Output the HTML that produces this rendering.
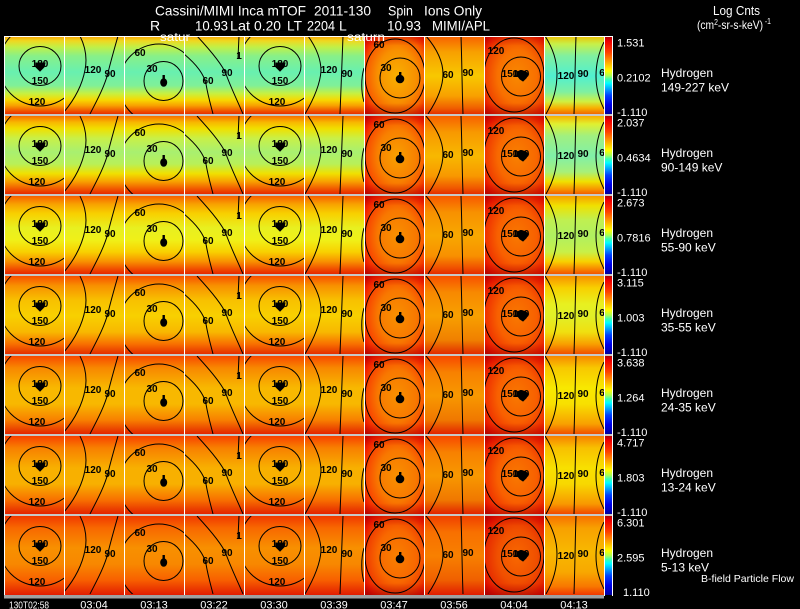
<!DOCTYPE html>
<html><head><meta charset="utf-8"><style>
html,body{margin:0;padding:0;background:#000;}
svg{display:block;}
.t{font-family:"Liberation Sans",sans-serif;fill:#fff;}
.lb text{font-family:"Liberation Sans",sans-serif;font-weight:bold;font-size:10px;fill:#000;text-anchor:middle;}
.cv{font-family:"Liberation Sans",sans-serif;font-size:11px;fill:#fff;}
.hl{font-family:"Liberation Sans",sans-serif;font-size:12px;fill:#fff;}
.tk{font-family:"Liberation Sans",sans-serif;font-size:11px;fill:#fff;text-anchor:middle;}
</style></head><body>
<svg width="800" height="609" viewBox="0 0 800 609" xmlns="http://www.w3.org/2000/svg">
<defs>
<linearGradient id="cb" x1="0" y1="0" x2="0" y2="1">
<stop offset="0" stop-color="#b00000"/><stop offset="0.06" stop-color="#f00000"/><stop offset="0.2" stop-color="#ff4000"/><stop offset="0.3" stop-color="#ff9000"/><stop offset="0.38" stop-color="#ffd000"/><stop offset="0.44" stop-color="#ffff00"/><stop offset="0.5" stop-color="#b0ff50"/><stop offset="0.55" stop-color="#40ffb0"/><stop offset="0.6" stop-color="#00ffff"/><stop offset="0.68" stop-color="#00a0ff"/><stop offset="0.76" stop-color="#0040ff"/><stop offset="0.88" stop-color="#0000e8"/><stop offset="1" stop-color="#0000a0"/>
</linearGradient>
<linearGradient id="edge" x1="0" y1="0" x2="0" y2="1">
<stop offset="0" stop-color="#c00000" stop-opacity="0.45"/><stop offset="0.12" stop-color="#c00000" stop-opacity="0"/><stop offset="0.84" stop-color="#b00000" stop-opacity="0"/><stop offset="1" stop-color="#a00000" stop-opacity="0.6"/>
</linearGradient>
<!-- row 1 -->
<linearGradient id="a1" x1="0" y1="0" x2="0" y2="1">
<stop offset="0" stop-color="#f8a000"/><stop offset="0.06" stop-color="#f0d820"/><stop offset="0.14" stop-color="#c0f048"/><stop offset="0.25" stop-color="#88f088"/><stop offset="0.45" stop-color="#68f0b0"/><stop offset="0.62" stop-color="#80f098"/><stop offset="0.72" stop-color="#c8f040"/><stop offset="0.8" stop-color="#f8d800"/><stop offset="0.87" stop-color="#f8a000"/><stop offset="0.94" stop-color="#f05000"/><stop offset="1" stop-color="#e01800"/>
</linearGradient>
<radialGradient id="t1" cx="0.55" cy="0.5" r="0.72"><stop offset="0" stop-color="#f8b000"/><stop offset="0.45" stop-color="#f89000"/><stop offset="0.7" stop-color="#f86000"/><stop offset="0.85" stop-color="#f02800"/><stop offset="1" stop-color="#c80000"/></radialGradient>
<linearGradient id="u1" x1="0" y1="0" x2="0" y2="1"><stop offset="0" stop-color="#f86000"/><stop offset="0.2" stop-color="#f8a000"/><stop offset="0.5" stop-color="#f8c800"/><stop offset="0.75" stop-color="#f8a000"/><stop offset="0.9" stop-color="#f06000"/><stop offset="1" stop-color="#e02000"/></linearGradient>
<radialGradient id="v1" cx="0.55" cy="0.5" r="0.72"><stop offset="0" stop-color="#f88800"/><stop offset="0.45" stop-color="#f87000"/><stop offset="0.7" stop-color="#f04800"/><stop offset="0.85" stop-color="#e82000"/><stop offset="1" stop-color="#c00000"/></radialGradient>
<linearGradient id="w1" x1="0" y1="0" x2="0" y2="1"><stop offset="0" stop-color="#f0c000"/><stop offset="0.1" stop-color="#c8f048"/><stop offset="0.25" stop-color="#80f0a0"/><stop offset="0.5" stop-color="#50f0d0"/><stop offset="0.7" stop-color="#80f0a0"/><stop offset="0.82" stop-color="#d0f040"/><stop offset="0.9" stop-color="#f8b000"/><stop offset="1" stop-color="#f05000"/></linearGradient>
<!-- row 2 -->
<linearGradient id="a2" x1="0" y1="0" x2="0" y2="1">
<stop offset="0" stop-color="#f87000"/><stop offset="0.08" stop-color="#f8b800"/><stop offset="0.16" stop-color="#f0e000"/><stop offset="0.28" stop-color="#c8f048"/><stop offset="0.45" stop-color="#a8f070"/><stop offset="0.6" stop-color="#b8f058"/><stop offset="0.72" stop-color="#f0e000"/><stop offset="0.82" stop-color="#f8a000"/><stop offset="0.92" stop-color="#f05000"/><stop offset="1" stop-color="#e01800"/>
</linearGradient>
<radialGradient id="t2" cx="0.55" cy="0.5" r="0.72"><stop offset="0" stop-color="#f8a000"/><stop offset="0.45" stop-color="#f88000"/><stop offset="0.7" stop-color="#f85000"/><stop offset="0.85" stop-color="#f02000"/><stop offset="1" stop-color="#c00000"/></radialGradient>
<linearGradient id="u2" x1="0" y1="0" x2="0" y2="1"><stop offset="0" stop-color="#f86000"/><stop offset="0.2" stop-color="#f89800"/><stop offset="0.5" stop-color="#f8b800"/><stop offset="0.75" stop-color="#f89800"/><stop offset="0.9" stop-color="#f05800"/><stop offset="1" stop-color="#e02000"/></linearGradient>
<radialGradient id="v2" cx="0.55" cy="0.5" r="0.72"><stop offset="0" stop-color="#f88000"/><stop offset="0.45" stop-color="#f86800"/><stop offset="0.7" stop-color="#f04000"/><stop offset="0.85" stop-color="#e81800"/><stop offset="1" stop-color="#c00000"/></radialGradient>
<linearGradient id="w2" x1="0" y1="0" x2="0" y2="1"><stop offset="0" stop-color="#f8b000"/><stop offset="0.1" stop-color="#e0f030"/><stop offset="0.25" stop-color="#a0f080"/><stop offset="0.5" stop-color="#80f0a8"/><stop offset="0.7" stop-color="#a8f078"/><stop offset="0.82" stop-color="#f0e000"/><stop offset="0.92" stop-color="#f89000"/><stop offset="1" stop-color="#f04800"/></linearGradient>
<!-- row 3 -->
<linearGradient id="a3" x1="0" y1="0" x2="0" y2="1">
<stop offset="0" stop-color="#f86000"/><stop offset="0.1" stop-color="#f8a000"/><stop offset="0.22" stop-color="#f8d000"/><stop offset="0.4" stop-color="#e8f020"/><stop offset="0.55" stop-color="#f0f018"/><stop offset="0.7" stop-color="#f8d000"/><stop offset="0.82" stop-color="#f89000"/><stop offset="0.92" stop-color="#f04800"/><stop offset="1" stop-color="#e01800"/>
</linearGradient>
<radialGradient id="t3" cx="0.55" cy="0.5" r="0.72"><stop offset="0" stop-color="#f89000"/><stop offset="0.45" stop-color="#f87800"/><stop offset="0.7" stop-color="#f84800"/><stop offset="0.85" stop-color="#f02000"/><stop offset="1" stop-color="#c00000"/></radialGradient>
<linearGradient id="u3" x1="0" y1="0" x2="0" y2="1"><stop offset="0" stop-color="#f85800"/><stop offset="0.2" stop-color="#f89000"/><stop offset="0.5" stop-color="#f8a800"/><stop offset="0.75" stop-color="#f89000"/><stop offset="0.9" stop-color="#f05000"/><stop offset="1" stop-color="#e02000"/></linearGradient>
<radialGradient id="v3" cx="0.55" cy="0.5" r="0.72"><stop offset="0" stop-color="#f87800"/><stop offset="0.45" stop-color="#f86000"/><stop offset="0.7" stop-color="#f03800"/><stop offset="0.85" stop-color="#e81800"/><stop offset="1" stop-color="#b80000"/></radialGradient>
<linearGradient id="w3" x1="0" y1="0" x2="0" y2="1"><stop offset="0" stop-color="#f8a000"/><stop offset="0.12" stop-color="#f0e000"/><stop offset="0.3" stop-color="#c0f050"/><stop offset="0.5" stop-color="#b0f060"/><stop offset="0.7" stop-color="#c8f048"/><stop offset="0.82" stop-color="#f8d000"/><stop offset="0.92" stop-color="#f88000"/><stop offset="1" stop-color="#f04000"/></linearGradient>
<!-- row 4 -->
<linearGradient id="a4" x1="0" y1="0" x2="0" y2="1">
<stop offset="0" stop-color="#f85000"/><stop offset="0.12" stop-color="#f89000"/><stop offset="0.3" stop-color="#f8c000"/><stop offset="0.5" stop-color="#f8d000"/><stop offset="0.7" stop-color="#f8b800"/><stop offset="0.85" stop-color="#f87000"/><stop offset="1" stop-color="#e02000"/>
</linearGradient>
<linearGradient id="u4" x1="0" y1="0" x2="0" y2="1"><stop offset="0" stop-color="#f85000"/><stop offset="0.2" stop-color="#f88800"/><stop offset="0.5" stop-color="#f8a000"/><stop offset="0.8" stop-color="#f08000"/><stop offset="1" stop-color="#e02000"/></linearGradient>
<linearGradient id="w4" x1="0" y1="0" x2="0" y2="1"><stop offset="0" stop-color="#f89000"/><stop offset="0.15" stop-color="#f8d000"/><stop offset="0.35" stop-color="#e8f020"/><stop offset="0.5" stop-color="#e0f028"/><stop offset="0.7" stop-color="#f0e010"/><stop offset="0.85" stop-color="#f8a000"/><stop offset="1" stop-color="#f04000"/></linearGradient>
<!-- row 5 -->
<linearGradient id="a5" x1="0" y1="0" x2="0" y2="1">
<stop offset="0" stop-color="#f84800"/><stop offset="0.15" stop-color="#f88800"/><stop offset="0.4" stop-color="#f8b800"/><stop offset="0.6" stop-color="#f8b800"/><stop offset="0.8" stop-color="#f88000"/><stop offset="1" stop-color="#e01800"/>
</linearGradient>
<linearGradient id="u5" x1="0" y1="0" x2="0" y2="1"><stop offset="0" stop-color="#f84800"/><stop offset="0.2" stop-color="#f88000"/><stop offset="0.5" stop-color="#f89800"/><stop offset="0.8" stop-color="#f07800"/><stop offset="1" stop-color="#e01800"/></linearGradient>
<linearGradient id="w5" x1="0" y1="0" x2="0" y2="1"><stop offset="0" stop-color="#f88800"/><stop offset="0.15" stop-color="#f8c800"/><stop offset="0.4" stop-color="#f8e800"/><stop offset="0.6" stop-color="#f8e000"/><stop offset="0.85" stop-color="#f8a000"/><stop offset="1" stop-color="#f04000"/></linearGradient>
<!-- row 6 -->
<linearGradient id="a6" x1="0" y1="0" x2="0" y2="1">
<stop offset="0" stop-color="#f84000"/><stop offset="0.15" stop-color="#f88000"/><stop offset="0.4" stop-color="#f8b000"/><stop offset="0.6" stop-color="#f8b000"/><stop offset="0.8" stop-color="#f87000"/><stop offset="1" stop-color="#e01800"/>
</linearGradient>
<linearGradient id="w6" x1="0" y1="0" x2="0" y2="1"><stop offset="0" stop-color="#f88000"/><stop offset="0.15" stop-color="#f8c000"/><stop offset="0.4" stop-color="#f8e000"/><stop offset="0.6" stop-color="#f8d800"/><stop offset="0.85" stop-color="#f89800"/><stop offset="1" stop-color="#f03800"/></linearGradient>
<!-- row 7 -->
<linearGradient id="a7" x1="0" y1="0" x2="0" y2="1">
<stop offset="0" stop-color="#f03800"/><stop offset="0.15" stop-color="#f86800"/><stop offset="0.4" stop-color="#f89000"/><stop offset="0.6" stop-color="#f88800"/><stop offset="0.8" stop-color="#f86000"/><stop offset="1" stop-color="#e01800"/>
</linearGradient>
<radialGradient id="t7" cx="0.55" cy="0.5" r="0.72"><stop offset="0" stop-color="#f88000"/><stop offset="0.45" stop-color="#f86800"/><stop offset="0.7" stop-color="#f04000"/><stop offset="0.85" stop-color="#e81800"/><stop offset="1" stop-color="#b80000"/></radialGradient>
<linearGradient id="u7" x1="0" y1="0" x2="0" y2="1"><stop offset="0" stop-color="#f04000"/><stop offset="0.2" stop-color="#f87000"/><stop offset="0.5" stop-color="#f88000"/><stop offset="0.8" stop-color="#f06000"/><stop offset="1" stop-color="#e01800"/></linearGradient>
<radialGradient id="v7" cx="0.55" cy="0.5" r="0.72"><stop offset="0" stop-color="#f86800"/><stop offset="0.45" stop-color="#f05000"/><stop offset="0.7" stop-color="#e83000"/><stop offset="0.85" stop-color="#e01000"/><stop offset="1" stop-color="#b00000"/></radialGradient>
<linearGradient id="w7" x1="0" y1="0" x2="0" y2="1"><stop offset="0" stop-color="#f87000"/><stop offset="0.15" stop-color="#f8a000"/><stop offset="0.45" stop-color="#f8b800"/><stop offset="0.7" stop-color="#f8a800"/><stop offset="0.88" stop-color="#f87800"/><stop offset="1" stop-color="#f03000"/></linearGradient>

<clipPath id="pc"><rect x="4" y="0" width="600" height="78"/></clipPath>

<g id="cont" fill="none" stroke="#000" stroke-width="1">
 <svg x="4" y="0" width="60" height="78" overflow="hidden">
  <ellipse cx="36" cy="30" rx="21" ry="19.5"/>
  <circle cx="36" cy="29" r="41"/>
  <path d="M32,27h9l-1,4l-4,4l-4,-4z" fill="#000"/>
 </svg>
 <svg x="64" y="0" width="60" height="78" overflow="hidden">
  <path d="M16,0 C22,12 23,24 21,34 C18,50 10,64 0,76"/>
  <path d="M54,0 C50,14 46,28 44,37 C40,52 32,66 26,78"/>
 </svg>
 <svg x="124" y="0" width="60" height="78" overflow="hidden">
  <circle cx="35" cy="48" r="40"/>
  <circle cx="39.5" cy="45" r="19.5"/>
  <ellipse cx="39.7" cy="46.5" rx="3" ry="3.8" fill="#000"/><rect x="38.5" y="39" width="2.4" height="4" fill="#000" stroke="none"/>
 </svg>
 <svg x="184" y="0" width="60" height="78" overflow="hidden">
  <path d="M0,18 C12,28 20,38 22,48 C24,60 27,70 29,78"/>
  <path d="M13,0 C26,14 38,28 42,38 C47,52 54,66 59,78"/>
  <path d="M55,0 L54,22"/>
 </svg>
 <svg x="244" y="0" width="60" height="78" overflow="hidden">
  <ellipse cx="36" cy="30" rx="21" ry="19.5"/>
  <circle cx="36" cy="29" r="41"/>
  <path d="M32,27h9l-1,4l-4,4l-4,-4z" fill="#000"/>
 </svg>
 <svg x="304" y="0" width="60" height="78" overflow="hidden">
  <path d="M4,0 C14,14 17,25 17,35 C16,50 8,66 1,78"/>
  <path d="M39,0 C38,30 37,50 36,78"/>
  <path d="M60,32 C57,42 57,56 60,66"/>
 </svg>
 <svg x="364" y="0" width="60" height="78" overflow="hidden">
  <ellipse cx="31" cy="40" rx="30" ry="37"/>
  <circle cx="36" cy="42" r="20"/>
  <ellipse cx="36" cy="43" rx="3.8" ry="3.8" fill="#000"/><rect x="35" y="36" width="2.4" height="4" fill="#000" stroke="none"/>
 </svg>
 <svg x="424" y="0" width="60" height="78" overflow="hidden">
  <path d="M2,0 C14,14 19,27 19,38 C19,52 12,66 4,78"/>
  <path d="M37,0 C38,30 38,50 39,78"/>
 </svg>
 <svg x="484" y="0" width="60" height="78" overflow="hidden">
  <ellipse cx="30" cy="39" rx="30" ry="37"/>
  <circle cx="37" cy="40.5" r="19.5"/>
  <path d="M33,36 L37,34.5 L41,35.5 L44.5,38 L42,42 L39,45 L36,43 L33,39z" fill="#000"/>
 </svg>
 <svg x="544" y="0" width="60" height="78" overflow="hidden">
  <path d="M1,0 C10,14 13,27 13,38 C13,52 9,66 2,78"/>
  <path d="M32,0 C31,30 31,50 30,78"/>
  <path d="M60,6 C54,18 52,29 52,40 C52,52 55,63 60,73"/>
 </svg>
</g>
</defs>

<rect x="0" y="0" width="800" height="609" fill="#000"/>

<!-- Title -->
<text class="t" font-size="14" x="155" y="15.5" textLength="151" lengthAdjust="spacingAndGlyphs">Cassini/MIMI Inca mTOF</text>
<text class="t" font-size="14" x="314" y="15.5" textLength="57" lengthAdjust="spacingAndGlyphs">2011-130</text>
<text class="t" font-size="14" x="388" y="15.5" textLength="25" lengthAdjust="spacingAndGlyphs">Spin</text>
<text class="t" font-size="14" x="424" y="15.5" textLength="58" lengthAdjust="spacingAndGlyphs">Ions Only</text>
<text class="t" font-size="14" x="150" y="30.5">R</text>
<text class="t" font-size="14" x="195" y="30.5" textLength="33" lengthAdjust="spacingAndGlyphs">10.93</text>
<text class="t" font-size="14" x="230" y="30.5" textLength="20" lengthAdjust="spacingAndGlyphs">Lat</text>
<text class="t" font-size="14" x="254" y="30.5" textLength="27" lengthAdjust="spacingAndGlyphs">0.20</text>
<text class="t" font-size="14" x="287" y="30.5" textLength="15" lengthAdjust="spacingAndGlyphs">LT</text>
<text class="t" font-size="14" x="307" y="30.5" textLength="28" lengthAdjust="spacingAndGlyphs">2204</text>
<text class="t" font-size="14" x="339" y="30.5">L</text>
<text class="t" font-size="14" x="387" y="30.5" textLength="34" lengthAdjust="spacingAndGlyphs">10.93</text>
<text class="t" font-size="14" x="432" y="30.5" textLength="58" lengthAdjust="spacingAndGlyphs">MIMI/APL</text>

<text class="t" font-size="13" x="713" y="15" textLength="47" lengthAdjust="spacingAndGlyphs">Log Cnts</text>
<text class="t" font-size="12" x="697" y="29" textLength="74" lengthAdjust="spacingAndGlyphs">(cm<tspan font-size="8" dy="-4">2</tspan><tspan dy="4">-sr-s-keV)</tspan><tspan font-size="8" dy="-5"> -1</tspan></text>

<!-- Row 1 -->
<g transform="translate(0,36)">
<rect x="4" y="0" width="360" height="80" fill="url(#a1)"/>
<rect x="364" y="0" width="60" height="80" fill="url(#t1)"/>
<rect x="424" y="0" width="60" height="80" fill="url(#u1)"/>
<rect x="484" y="0" width="60" height="80" fill="url(#v1)"/>
<rect x="364" y="0" width="60" height="80" fill="url(#edge)"/>
<rect x="484" y="0" width="60" height="80" fill="url(#edge)"/>
<rect x="544" y="0" width="60" height="80" fill="url(#w1)"/>
<rect x="605" y="1" width="7" height="77" fill="url(#cb)"/>
<use href="#cont"/>
<g class="lb" clip-path="url(#pc)">
<text x="40" y="31">180</text><text x="40" y="48">150</text><text x="37" y="69">120</text>
<text x="93" y="37">120</text><text x="110" y="41">90</text>
<text x="140" y="20">60</text><text x="152" y="36">30</text>
<text x="208" y="48">60</text><text x="227" y="40">90</text><text x="239" y="23">1</text>
<text x="280" y="31">180</text><text x="280" y="48">150</text><text x="277" y="69">120</text>
<text x="329" y="37">120</text><text x="347" y="41">90</text>
<text x="379" y="12">60</text><text x="386" y="35">30</text>
<text x="448" y="42">60</text><text x="468" y="40">90</text>
<text x="496" y="18">120</text><text x="510" y="41">150</text><text x="521" y="41">180</text>
<text x="566" y="43">120</text><text x="583" y="41">90</text><text x="602" y="40">6</text>
</g>
<text class="cv" x="617" y="10.5">1.531</text>
<text class="cv" x="617" y="45.5">0.2102</text>
<text class="cv" x="617" y="80">-1.110</text>
<text class="hl" x="661" y="41">Hydrogen</text>
<text class="hl" x="661" y="55.5">149-227 keV</text>
</g>

<!-- Row 2 -->
<g transform="translate(0,116)">
<rect x="4" y="0" width="360" height="80" fill="url(#a2)"/>
<rect x="364" y="0" width="60" height="80" fill="url(#t2)"/>
<rect x="424" y="0" width="60" height="80" fill="url(#u2)"/>
<rect x="484" y="0" width="60" height="80" fill="url(#v2)"/>
<rect x="364" y="0" width="60" height="80" fill="url(#edge)"/>
<rect x="484" y="0" width="60" height="80" fill="url(#edge)"/>
<rect x="544" y="0" width="60" height="80" fill="url(#w2)"/>
<rect x="605" y="0" width="7" height="78" fill="url(#cb)"/>
<use href="#cont"/>
<g class="lb" clip-path="url(#pc)">
<text x="40" y="31">180</text><text x="40" y="48">150</text><text x="37" y="69">120</text>
<text x="93" y="37">120</text><text x="110" y="41">90</text>
<text x="140" y="20">60</text><text x="152" y="36">30</text>
<text x="208" y="48">60</text><text x="227" y="40">90</text><text x="239" y="23">1</text>
<text x="280" y="31">180</text><text x="280" y="48">150</text><text x="277" y="69">120</text>
<text x="329" y="37">120</text><text x="347" y="41">90</text>
<text x="379" y="12">60</text><text x="386" y="35">30</text>
<text x="448" y="42">60</text><text x="468" y="40">90</text>
<text x="496" y="18">120</text><text x="510" y="41">150</text><text x="521" y="41">180</text>
<text x="566" y="43">120</text><text x="583" y="41">90</text><text x="602" y="40">6</text>
</g>
<text class="cv" x="617" y="10.5">2.037</text>
<text class="cv" x="617" y="45.5">0.4634</text>
<text class="cv" x="617" y="80">-1.110</text>
<text class="hl" x="661" y="41">Hydrogen</text>
<text class="hl" x="661" y="55.5">90-149 keV</text>
</g>

<!-- Row 3 -->
<g transform="translate(0,196)">
<rect x="4" y="0" width="360" height="80" fill="url(#a3)"/>
<rect x="364" y="0" width="60" height="80" fill="url(#t3)"/>
<rect x="424" y="0" width="60" height="80" fill="url(#u3)"/>
<rect x="484" y="0" width="60" height="80" fill="url(#v3)"/>
<rect x="364" y="0" width="60" height="80" fill="url(#edge)"/>
<rect x="484" y="0" width="60" height="80" fill="url(#edge)"/>
<rect x="544" y="0" width="60" height="80" fill="url(#w3)"/>
<rect x="605" y="0" width="7" height="78" fill="url(#cb)"/>
<use href="#cont"/>
<g class="lb" clip-path="url(#pc)">
<text x="40" y="31">180</text><text x="40" y="48">150</text><text x="37" y="69">120</text>
<text x="93" y="37">120</text><text x="110" y="41">90</text>
<text x="140" y="20">60</text><text x="152" y="36">30</text>
<text x="208" y="48">60</text><text x="227" y="40">90</text><text x="239" y="23">1</text>
<text x="280" y="31">180</text><text x="280" y="48">150</text><text x="277" y="69">120</text>
<text x="329" y="37">120</text><text x="347" y="41">90</text>
<text x="379" y="12">60</text><text x="386" y="35">30</text>
<text x="448" y="42">60</text><text x="468" y="40">90</text>
<text x="496" y="18">120</text><text x="510" y="41">150</text><text x="521" y="41">180</text>
<text x="566" y="43">120</text><text x="583" y="41">90</text><text x="602" y="40">6</text>
</g>
<text class="cv" x="617" y="10.5">2.673</text>
<text class="cv" x="617" y="45.5">0.7816</text>
<text class="cv" x="617" y="80">-1.110</text>
<text class="hl" x="661" y="41">Hydrogen</text>
<text class="hl" x="661" y="55.5">55-90 keV</text>
</g>

<!-- Row 4 -->
<g transform="translate(0,276)">
<rect x="4" y="0" width="360" height="80" fill="url(#a4)"/>
<rect x="364" y="0" width="60" height="80" fill="url(#t3)"/>
<rect x="424" y="0" width="60" height="80" fill="url(#u4)"/>
<rect x="484" y="0" width="60" height="80" fill="url(#v3)"/>
<rect x="364" y="0" width="60" height="80" fill="url(#edge)"/>
<rect x="484" y="0" width="60" height="80" fill="url(#edge)"/>
<rect x="544" y="0" width="60" height="80" fill="url(#w4)"/>
<rect x="605" y="0" width="7" height="78" fill="url(#cb)"/>
<use href="#cont"/>
<g class="lb" clip-path="url(#pc)">
<text x="40" y="31">180</text><text x="40" y="48">150</text><text x="37" y="69">120</text>
<text x="93" y="37">120</text><text x="110" y="41">90</text>
<text x="140" y="20">60</text><text x="152" y="36">30</text>
<text x="208" y="48">60</text><text x="227" y="40">90</text><text x="239" y="23">1</text>
<text x="280" y="31">180</text><text x="280" y="48">150</text><text x="277" y="69">120</text>
<text x="329" y="37">120</text><text x="347" y="41">90</text>
<text x="379" y="12">60</text><text x="386" y="35">30</text>
<text x="448" y="42">60</text><text x="468" y="40">90</text>
<text x="496" y="18">120</text><text x="510" y="41">150</text><text x="521" y="41">180</text>
<text x="566" y="43">120</text><text x="583" y="41">90</text><text x="602" y="40">6</text>
</g>
<text class="cv" x="617" y="10.5">3.115</text>
<text class="cv" x="617" y="45.5">1.003</text>
<text class="cv" x="617" y="80">-1.110</text>
<text class="hl" x="661" y="41">Hydrogen</text>
<text class="hl" x="661" y="55.5">35-55 keV</text>
</g>

<!-- Row 5 -->
<g transform="translate(0,356)">
<rect x="4" y="0" width="360" height="80" fill="url(#a5)"/>
<rect x="364" y="0" width="60" height="80" fill="url(#t3)"/>
<rect x="424" y="0" width="60" height="80" fill="url(#u5)"/>
<rect x="484" y="0" width="60" height="80" fill="url(#v3)"/>
<rect x="364" y="0" width="60" height="80" fill="url(#edge)"/>
<rect x="484" y="0" width="60" height="80" fill="url(#edge)"/>
<rect x="544" y="0" width="60" height="80" fill="url(#w5)"/>
<rect x="605" y="0" width="7" height="78" fill="url(#cb)"/>
<use href="#cont"/>
<g class="lb" clip-path="url(#pc)">
<text x="40" y="31">180</text><text x="40" y="48">150</text><text x="37" y="69">120</text>
<text x="93" y="37">120</text><text x="110" y="41">90</text>
<text x="140" y="20">60</text><text x="152" y="36">30</text>
<text x="208" y="48">60</text><text x="227" y="40">90</text><text x="239" y="23">1</text>
<text x="280" y="31">180</text><text x="280" y="48">150</text><text x="277" y="69">120</text>
<text x="329" y="37">120</text><text x="347" y="41">90</text>
<text x="379" y="12">60</text><text x="386" y="35">30</text>
<text x="448" y="42">60</text><text x="468" y="40">90</text>
<text x="496" y="18">120</text><text x="510" y="41">150</text><text x="521" y="41">180</text>
<text x="566" y="43">120</text><text x="583" y="41">90</text><text x="602" y="40">6</text>
</g>
<text class="cv" x="617" y="10.5">3.638</text>
<text class="cv" x="617" y="45.5">1.264</text>
<text class="cv" x="617" y="80">-1.110</text>
<text class="hl" x="661" y="41">Hydrogen</text>
<text class="hl" x="661" y="55.5">24-35 keV</text>
</g>

<!-- Row 6 -->
<g transform="translate(0,436)">
<rect x="4" y="0" width="360" height="80" fill="url(#a6)"/>
<rect x="364" y="0" width="60" height="80" fill="url(#t3)"/>
<rect x="424" y="0" width="60" height="80" fill="url(#u5)"/>
<rect x="484" y="0" width="60" height="80" fill="url(#v3)"/>
<rect x="364" y="0" width="60" height="80" fill="url(#edge)"/>
<rect x="484" y="0" width="60" height="80" fill="url(#edge)"/>
<rect x="544" y="0" width="60" height="80" fill="url(#w6)"/>
<rect x="605" y="0" width="7" height="78" fill="url(#cb)"/>
<use href="#cont"/>
<g class="lb" clip-path="url(#pc)">
<text x="40" y="31">180</text><text x="40" y="48">150</text><text x="37" y="69">120</text>
<text x="93" y="37">120</text><text x="110" y="41">90</text>
<text x="140" y="20">60</text><text x="152" y="36">30</text>
<text x="208" y="48">60</text><text x="227" y="40">90</text><text x="239" y="23">1</text>
<text x="280" y="31">180</text><text x="280" y="48">150</text><text x="277" y="69">120</text>
<text x="329" y="37">120</text><text x="347" y="41">90</text>
<text x="379" y="12">60</text><text x="386" y="35">30</text>
<text x="448" y="42">60</text><text x="468" y="40">90</text>
<text x="496" y="18">120</text><text x="510" y="41">150</text><text x="521" y="41">180</text>
<text x="566" y="43">120</text><text x="583" y="41">90</text><text x="602" y="40">6</text>
</g>
<text class="cv" x="617" y="10.5">4.717</text>
<text class="cv" x="617" y="45.5">1.803</text>
<text class="cv" x="617" y="80">-1.110</text>
<text class="hl" x="661" y="41">Hydrogen</text>
<text class="hl" x="661" y="55.5">13-24 keV</text>
</g>

<!-- Row 7 -->
<g transform="translate(0,516)">
<rect x="4" y="0" width="360" height="80" fill="url(#a7)"/>
<rect x="364" y="0" width="60" height="80" fill="url(#t7)"/>
<rect x="424" y="0" width="60" height="80" fill="url(#u7)"/>
<rect x="484" y="0" width="60" height="80" fill="url(#v7)"/>
<rect x="364" y="0" width="60" height="80" fill="url(#edge)"/>
<rect x="484" y="0" width="60" height="80" fill="url(#edge)"/>
<rect x="544" y="0" width="60" height="80" fill="url(#w7)"/>
<rect x="605" y="0" width="7" height="79" fill="url(#cb)"/>
<use href="#cont"/>
<g class="lb" clip-path="url(#pc)">
<text x="40" y="31">180</text><text x="40" y="48">150</text><text x="37" y="69">120</text>
<text x="93" y="37">120</text><text x="110" y="41">90</text>
<text x="140" y="20">60</text><text x="152" y="36">30</text>
<text x="208" y="48">60</text><text x="227" y="40">90</text><text x="239" y="23">1</text>
<text x="280" y="31">180</text><text x="280" y="48">150</text><text x="277" y="69">120</text>
<text x="329" y="37">120</text><text x="347" y="41">90</text>
<text x="379" y="12">60</text><text x="386" y="35">30</text>
<text x="448" y="42">60</text><text x="468" y="40">90</text>
<text x="496" y="18">120</text><text x="510" y="41">150</text><text x="521" y="41">180</text>
<text x="566" y="43">120</text><text x="583" y="41">90</text><text x="602" y="40">6</text>
</g>
<text class="cv" x="617" y="10.5">6.301</text>
<text class="cv" x="617" y="45.5">2.595</text>
<text class="cv" x="623" y="80">1.110</text>
<text class="hl" x="661" y="41">Hydrogen</text>
<text class="hl" x="661" y="55.5">5-13 keV</text>
</g>

<!-- grid lines -->
<g fill="#c8c8c8">
<rect x="4" y="114" width="609" height="2"/>
<rect x="4" y="194" width="609" height="2"/>
<rect x="4" y="274" width="609" height="2"/>
<rect x="4" y="354" width="609" height="2"/>
<rect x="4" y="434" width="609" height="2"/>
<rect x="4" y="514" width="609" height="2"/>
</g>
<g stroke="#fff" stroke-width="1">
<line x1="4" y1="36.5" x2="613" y2="36.5"/>
<line x1="4.5" y1="36" x2="4.5" y2="596"/>
<line x1="64.5" y1="36" x2="64.5" y2="596"/>
<line x1="124.5" y1="36" x2="124.5" y2="596"/>
<line x1="184.5" y1="36" x2="184.5" y2="596"/>
<line x1="244.5" y1="36" x2="244.5" y2="596"/>
<line x1="304.5" y1="36" x2="304.5" y2="596"/>
<line x1="364.5" y1="36" x2="364.5" y2="596"/>
<line x1="424.5" y1="36" x2="424.5" y2="596"/>
<line x1="484.5" y1="36" x2="484.5" y2="596"/>
<line x1="544.5" y1="36" x2="544.5" y2="596"/>
<line x1="604.5" y1="36" x2="604.5" y2="596"/>
<line x1="612.5" y1="36" x2="612.5" y2="596"/>
</g>
<rect x="4" y="595" width="600" height="3.5" fill="#a0a0a0"/>

<!-- saturn labels -->
<text class="t" font-size="12" x="160" y="41" textLength="30" lengthAdjust="spacingAndGlyphs">satur</text>
<text class="t" font-size="12" x="347" y="41" textLength="38" lengthAdjust="spacingAndGlyphs">saturn</text>

<!-- B-field -->
<text class="t" font-size="10.5" x="701" y="582" textLength="93" lengthAdjust="spacingAndGlyphs">B-field Particle Flow</text>

<!-- time ticks -->
<text class="t" font-size="10.5" x="9" y="608.5" textLength="40" lengthAdjust="spacingAndGlyphs">130T02:58</text>
<text class="tk" x="94" y="608.5">03:04</text>
<text class="tk" x="154" y="608.5">03:13</text>
<text class="tk" x="214" y="608.5">03:22</text>
<text class="tk" x="274" y="608.5">03:30</text>
<text class="tk" x="334" y="608.5">03:39</text>
<text class="tk" x="394" y="608.5">03:47</text>
<text class="tk" x="454" y="608.5">03:56</text>
<text class="tk" x="514" y="608.5">04:04</text>
<text class="tk" x="574" y="608.5">04:13</text>
</svg>
</body></html>
